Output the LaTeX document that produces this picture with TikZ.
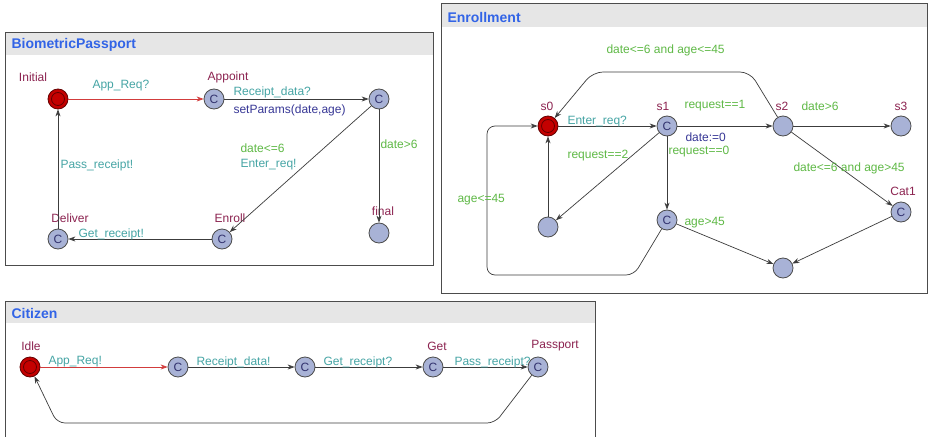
\documentclass[tikz,border=0pt]{standalone}
\usepackage{fontspec}
\setmainfont{Liberation Sans}
\usetikzlibrary{arrows.meta}
\definecolor{locfill}{RGB}{168,178,214}
\definecolor{initfill}{RGB}{196,0,0}
\definecolor{initline}{RGB}{100,0,0}
\definecolor{namecol}{RGB}{140,35,80}
\definecolor{synccol}{RGB}{70,165,165}
\definecolor{guardcol}{RGB}{95,185,70}
\definecolor{updcol}{RGB}{55,55,150}
\definecolor{ccol}{RGB}{50,50,110}
\definecolor{edgecol}{RGB}{60,60,60}
\definecolor{redcol}{RGB}{210,60,60}
\definecolor{barcol}{RGB}{230,230,230}
\definecolor{titlecol}{RGB}{50,100,230}
\begin{document}
\begin{tikzpicture}[x=1pt,y=-1pt,
  loc/.style={circle,draw=black!70,line width=0.8pt,fill=locfill,minimum size=20pt,inner sep=0pt,text=ccol,font=\fontsize{12}{12}\selectfont},
  init/.style={loc,fill=initfill,draw=initline,path picture={\draw[initline,line width=0.8pt] (path picture bounding box.center) circle (6.5pt);}},
  lname/.style={text=namecol,font=\fontsize{12}{12}\selectfont},
  sync/.style={anchor=west,text=synccol,font=\fontsize{12}{12}\selectfont},
  guard/.style={anchor=west,text=guardcol,font=\fontsize{12}{12}\selectfont},
  upd/.style={anchor=west,text=updcol,font=\fontsize{12}{12}\selectfont},
  edge/.style={draw=edgecol,line width=0.7pt,-{Stealth[length=7pt,width=5pt]}},
  redge/.style={edge,draw=redcol},
  frame/.style={draw=black!70,line width=1pt},
  title/.style={anchor=west,text=titlecol,font=\bfseries\fontsize{14}{14}\selectfont}]
\useasboundingbox[fill=white] (0,0) rectangle (928,436);
\fill[barcol] (5,33) rectangle (433,55);
\draw[frame] (5,33) rectangle (433,265);
\node[title] (tbio) at (8,45) {BiometricPassport};
\node[init] (initial) at (58,99) {};
\node[loc] (appoint) at (214,99) {C};
\node[loc] (params) at (379,99) {C};
\node[loc] (final) at (379,233) {};
\node[loc] (enroll) at (222,239) {C};
\node[loc] (deliver) at (58,239) {C};
\node[lname] (ninitial) at (33,77) {Initial};
\node[lname] (nappoint) at (228,77) {Appoint};
\node[lname] (nfinal) at (383,211) {final};
\node[lname] (nenroll) at (230,218) {Enroll};
\node[lname] (ndeliver) at (70,218) {Deliver};
\draw[redge] (initial) -- (appoint);
\draw[edge] (appoint) -- (params);
\draw[edge] (params) -- (enroll);
\draw[edge] (params) -- (final);
\draw[edge] (enroll) -- (deliver);
\draw[edge] (deliver) -- (initial);
\node[sync] (lappreq) at (89,86) {App\_Req?};
\node[sync] (lrecdata) at (230,92) {Receipt\_data?};
\node[upd] (lsetp) at (230,110) {setParams(date,age)};
\node[guard] (ldate) at (237,148) {date<=6};
\node[sync] (lenter) at (237,165) {Enter\_req!};
\node[guard] (ldatebig) at (377,144) {date>6};
\node[sync] (lpass) at (57,165) {Pass\_receipt!};
\node[sync] (lgetrec) at (75,234) {Get\_receipt!};
\fill[barcol] (441,4) rectangle (927,27);
\draw[frame] (441,4) rectangle (927,293);
\node[title] (tenr) at (444,17) {Enrollment};
\node[init] (s0) at (548,126) {};
\node[loc] (s1) at (667,126) {C};
\node[loc] (s2) at (783,126) {};
\node[loc] (s3) at (901,126) {};
\node[loc] (cat1) at (901,212) {C};
\node[loc] (back) at (548,227) {};
\node[loc] (old) at (667,220) {C};
\node[loc] (done) at (783,268) {};
\node[lname] (ns0) at (547,106) {s0};
\node[lname] (ns1) at (663,106) {s1};
\node[lname] (ns2) at (782,106) {s2};
\node[lname] (ns3) at (901,106) {s3};
\node[lname] (ncat1) at (903,191) {Cat1};
\draw[edge] (s0) -- (s1);
\draw[edge] (s1) -- (s2);
\draw[edge] (s2) -- (s3);
\draw[edge,rounded corners=10pt] (s2) -- (750,72) -- (593,72) -- (s0);
\draw[edge] (s1) -- (back);
\draw[edge] (back) -- (s0);
\draw[edge] (s1) -- (old);
\draw[edge] (s2) -- (cat1);
\draw[edge] (cat1) -- (done);
\draw[edge] (old) -- (done);
\draw[edge,rounded corners=8pt] (old) -- (634,275) -- (487,275) -- (487,126) -- (s0);
\node[guard] (lyoung) at (603,50) {date<=6 and age<=45};
\node[sync] (lenterq) at (564,122) {Enter\_req?};
\node[guard] (lreq1) at (681,106) {request==1};
\node[guard] (llate) at (798,106) {date>6};
\node[upd] (lreset) at (682,137) {date:=0};
\node[guard] (lreq0) at (665,152) {request==0};
\node[guard] (lreq2) at (564,156) {request==2};
\node[guard] (lold) at (790,168) {date<=6 and age>45};
\node[guard] (lage1) at (454,200) {age<=45};
\node[guard] (lage2) at (681,223) {age>45};
\fill[barcol] (5,301) rectangle (595,323);
\draw[frame] (5,437) -- (5,301) -- (595,301) -- (595,437);
\node[title] (tcit) at (8,313) {Citizen};
\node[init] (idle) at (30,367) {};
\node[loc] (req) at (178,367) {C};
\node[loc] (wait) at (305,367) {C};
\node[loc] (get) at (433,367) {C};
\node[loc] (passport) at (538,367) {C};
\node[lname] (nidle) at (31,346) {Idle};
\node[lname] (nget) at (437,346) {Get};
\node[lname] (npassport) at (555,346) {Passport};
\draw[redge] (idle) -- (req);
\draw[edge] (req) -- (wait);
\draw[edge] (wait) -- (get);
\draw[edge] (get) -- (passport);
\draw[edge,rounded corners=8pt] (passport) -- (495,423) -- (57,423) -- (idle);
\node[sync] (lappreqc) at (45,362) {App\_Req!};
\node[sync] (lrecdatac) at (193,362) {Receipt\_data!};
\node[sync] (lgetrecc) at (320,362) {Get\_receipt?};
\node[sync] (lpassc) at (451,362) {Pass\_receipt?};
\end{tikzpicture}
\end{document}
